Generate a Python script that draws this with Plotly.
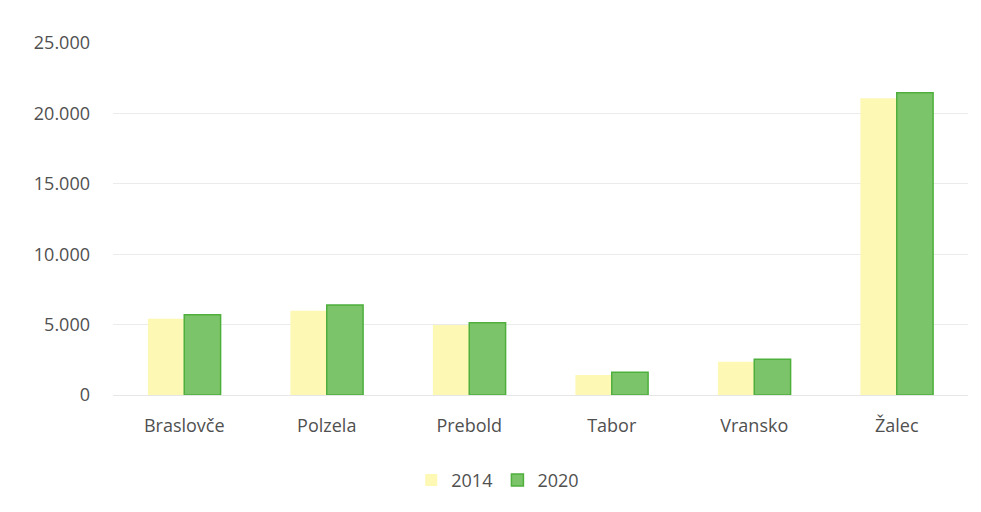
import plotly.graph_objects as go

categories = ["Braslovče", "Polzela", "Prebold", "Tabor", "Vransko", "Žalec"]
values_2014 = [5420, 5980, 4970, 1420, 2370, 21080]
values_2020 = [5700, 6390, 5140, 1610, 2540, 21460]
series_names = ["2014", "2020"]
tick_vals = [0, 5000, 10000, 15000, 20000, 25000]
tick_text = ["0", "5.000", "10.000", "15.000", "20.000", "25.000"]

fig = go.Figure()
fig.add_trace(go.Bar(
    x=categories, y=values_2014, name=series_names[0],
    marker=dict(color="#FDF8B4", line=dict(color="#FDF8B4", width=0)),
))
fig.add_trace(go.Bar(
    x=categories, y=values_2020, name=series_names[1],
    marker=dict(color="#7CC46A", line=dict(color="#4EAF3C", width=1.5)),
))

fig.update_layout(
    width=981, height=512,
    margin=dict(l=105, r=21, t=35, b=125),
    paper_bgcolor="white", plot_bgcolor="white",
    barmode="group", bargap=0.49, bargroupgap=0.0,
    font=dict(family="Open Sans, sans-serif", size=18, color="#505050"),
    showlegend=True,
    legend=dict(orientation="h", x=0.45, xanchor="center", y=-0.19, yanchor="top",
                font=dict(size=18, color="#505050"), itemwidth=30, traceorder="normal",
                tracegroupgap=0),
    xaxis=dict(showgrid=False, showline=True, linecolor="#E6E6E6", linewidth=1,
               ticks="", ticklabelstandoff=14, tickfont=dict(size=18, color="#505050")),
    yaxis=dict(range=[0, 25000], tickvals=tick_vals, ticktext=tick_text,
               showgrid=True, gridcolor="#EBEBEB", gridwidth=1, zeroline=False,
               showline=False, ticks="", ticklabelstandoff=22,
               tickfont=dict(size=18, color="#505050")),
)

fig.write_html("out.html")
